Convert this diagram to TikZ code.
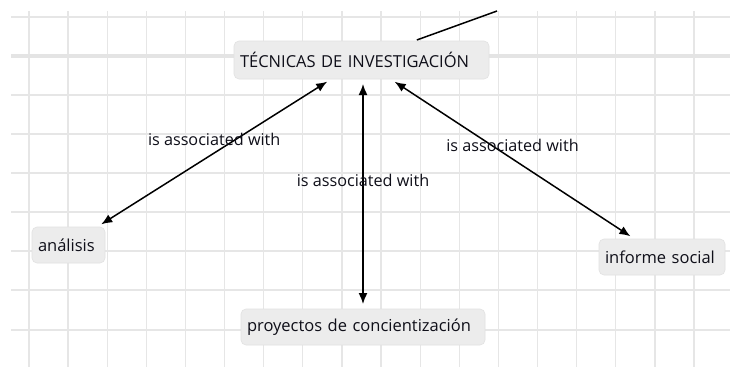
\documentclass[tikz,border=0pt]{standalone}
\usepackage{fontspec}
\setmainfont{Open Sans}
\usetikzlibrary{arrows.meta}
\definecolor{gridc}{RGB}{230,230,230}
\definecolor{thickc}{RGB}{228,228,228}
\definecolor{boxc}{RGB}{236,236,236}
\definecolor{boxb}{RGB}{226,226,226}
\definecolor{txt}{RGB}{15,15,25}
\tikzset{
  concept/.style={rectangle, rounded corners=5pt, fill=boxc, draw=boxb, line width=0.6pt,
    font=\fontsize{16.5}{19}\selectfont, text=txt, align=left, inner xsep=6pt, inner ysep=0pt, outer sep=0pt},
  link/.style={line width=1.5pt, {Latex[length=11pt,width=9pt]}-{Latex[length=11pt,width=9pt]}, shorten <=5pt, shorten >=5pt},
  lbl/.style={font=\fontsize{16.2}{19}\selectfont, text=txt, yshift=13.5pt, inner sep=0pt}
}
\begin{document}
\begin{tikzpicture}[x=1pt,y=-1pt]
\useasboundingbox (0,0) rectangle (730,367);
\fill[white] (0,0) rectangle (730,367);
% grid
\foreach \i in {0,...,17} {
  \draw[gridc, line width=1.3pt] ({29+39.12*\i},11) -- ({29+39.12*\i},367);
}
\foreach \y in {17,95,134,173,212,251,290,330} {
  \draw[gridc, line width=1.3pt] (11,\y) -- (730,\y);
}
\draw[thickc, line width=4pt] (11,56) -- (730,56);
% nodes
\node[concept, minimum width=255pt, minimum height=38pt, text width=243pt] (tec) at (361.5,60) {TÉCNICAS DE INVESTIGACIÓN};
\node[concept, minimum width=73pt, minimum height=36pt, text width=61pt] (ana) at (68.5,245) {análisis};
\node[concept, minimum width=126pt, minimum height=36pt, text width=114pt] (inf) at (662,257) {informe social};
\node[concept, minimum width=244pt, minimum height=36pt, text width=232pt] (pro) at (363,327) {proyectos de concientización};
\coordinate (off) at (497,11);
% connectors
\draw[line width=1.5pt, shorten <=3pt] (tec) -- (off);
\draw[link] (tec) -- node[lbl, midway] {is associated with} (ana);
\draw[link] (tec.south -| pro) -- node[lbl, midway] {is associated with} (pro);
\draw[link] (tec) -- node[lbl, midway] {is associated with} (inf);
\end{tikzpicture}
\end{document}
